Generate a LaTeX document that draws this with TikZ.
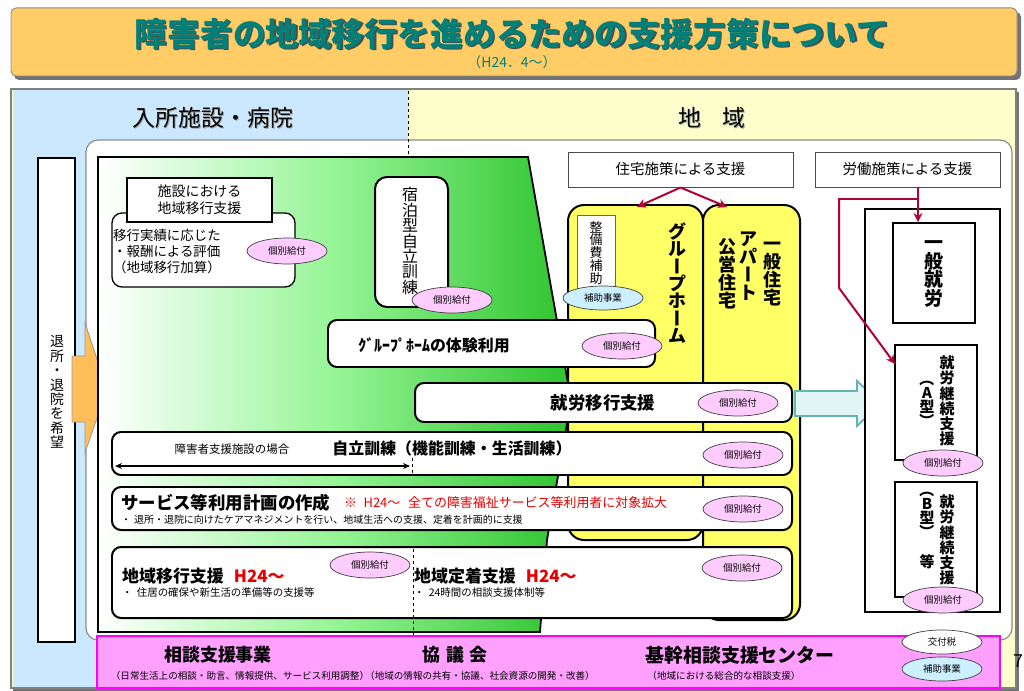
\documentclass[tikz,border=0pt]{standalone}
\usepackage{fontspec}
\usepackage{graphicx}
\setmainfont{Noto Sans CJK JP}
\usetikzlibrary{arrows.meta,shapes.geometric,fit}
\definecolor{titleor}{RGB}{255,204,102}
\definecolor{tealT}{RGB}{0,128,120}
\definecolor{lblue}{RGB}{204,232,255}
\definecolor{lyel}{RGB}{255,255,204}
\definecolor{yel}{RGB}{255,255,102}
\definecolor{pinkE}{RGB}{255,204,255}
\definecolor{cyanE}{RGB}{204,240,255}
\definecolor{barPink}{RGB}{255,160,255}
\definecolor{barMag}{RGB}{255,0,255}
\definecolor{darkred}{RGB}{180,0,50}
\definecolor{gr1}{RGB}{150,245,150}
\definecolor{gr2}{RGB}{45,195,45}
\definecolor{arrCyan}{RGB}{225,245,245}
\definecolor{arrTeal}{RGB}{100,180,180}
\definecolor{orArrow}{RGB}{255,190,90}
\definecolor{redT}{RGB}{230,0,0}
\newcommand\fsz[2]{\fontsize{#1}{#2}\selectfont}
\newcommand\VL{\rotatebox[origin=c]{-90}{\raisebox{0pt}[0.76em][0pt]{ー}}}
\newcommand\VP[1]{\rotatebox[origin=c]{-90}{\raisebox{0pt}[0.88em][0.12em]{#1}}}
\tikzset{
  box/.style={draw=black, line width=2pt, fill=white, rounded corners=9bp, inner sep=0pt},
  sq/.style={draw=black, line width=1.3pt, fill=white, inner sep=0pt},
  ell/.style={ellipse, draw=black!75, line width=0.7pt, fill=pinkE, minimum width=80bp, minimum height=26bp, inner sep=0pt, font=\fsz{9.5}{10}},
  cell/.style={ell, fill=cyanE},
  vt/.style={align=center, inner sep=0pt, execute at begin node={\setlength{\lineskiplimit}{-30pt}}},
  txt/.style={inner sep=0pt},
  rarr/.style={draw=darkred, line width=2pt, -{Stealth[length=9pt,width=9pt]}},
}
\begin{document}
\begin{tikzpicture}[x=1bp,y=-1bp]
\useasboundingbox (0,0) rectangle (1024,691);
\fill[white] (0,0) rectangle (1024,691);
% title
\fill[black!55, rounded corners=5bp] (14,12) rectangle (1021,80);
\node[fit={(11,8) (1017,76)}, inner sep=0pt, draw=black!45, line width=1pt, fill=titleor, rounded corners=5bp] (titleBox) {};
\node[txt, font=\fsz{33}{36}\bfseries, text=black!70] (titleSh) at (513.5,35.5) {障害者の地域移行を進めるための支援方策について};
\node[txt, font=\fsz{33}{36}\bfseries, text=tealT] (title) at (512,34) {障害者の地域移行を進めるための支援方策について};
\node[txt, font=\fsz{14}{15}, text=tealT] (subtitle) at (512,62) {（H24．4～）};
% main panel
\fill[black!55] (13,92) rectangle (1019,691);
\node[fit={(11,89) (1016,688)}, inner sep=0pt, draw=black!50, line width=2.5pt, fill=lyel] (mainPanel) {};
\fill[lblue] (12.5,90.5) rectangle (408,686.5);
\node[txt, font=\fsz{23}{25}, text=black!35] (hdrLsh) at (214,119) {入所施設・病院};
\node[txt, font=\fsz{23}{25}] (hdrL) at (213,118) {入所施設・病院};
\node[txt, font=\fsz{23}{25}, text=black!35] (hdrRsh) at (713,119) {地\hspace{0.9em}域};
\node[txt, font=\fsz{23}{25}] (hdrR) at (712,118) {地\hspace{0.9em}域};
% inner panel
\node[fit={(86,140) (1012,640)}, inner sep=0pt, draw=black!45, line width=1.2pt, fill=white, rounded corners=12bp] (innerPanel) {};
\coordinate (dTopA) at (408,91); \coordinate (dTopB) at (408,155);
\draw[dashed, line width=0.9pt] (dTopA) -- (dTopB);
% left column
\node[sq, line width=1.5pt, fit={(38,158) (75,642)}] (leftBox) {};
\node[vt, font=\fsz{14}{14.5}] (leftTxt) at (57,392) {退\\所\\・\\退\\院\\を\\希\\望};
\draw[fill=orArrow, draw=black!40, line width=0.8pt] (72,356) -- (85,356) -- (85,323) -- (107,389) -- (85,453) -- (85,422) -- (72,422) -- cycle;
% green region
\draw[line width=1.8pt, left color=white, right color=gr2, middle color=gr1] (98,157) -- (528,157) -- (571,400) -- (547,540) -- (540,632) -- (98,632) -- cycle;
% yellow columns
\node[fit={(568,205) (703,540)}, inner sep=0pt, draw, line width=2pt, fill=yel, rounded corners=16bp] (ghCol) {};
\node[fit={(703,205) (800,620)}, inner sep=0pt, draw, line width=2pt, fill=yel, rounded corners=16bp] (ipCol) {};
\node[sq, line width=0.8pt, draw=black!60, fit={(577,215) (615,290)}] (seibiBox) {};
\node[vt, font=\fsz{13}{13}] (seibiTxt) at (596,253) {整\\備\\費\\補\\助};
\node[cell, minimum height=24bp] (hojo1) at (603,298) {補助事業};
\node[vt, font=\fsz{18}{17.5}\bfseries] (ghTxt) at (677,283) {グ\\ル\\\VL\\プ\\ホ\\\VL\\ム};
\node[vt, font=\fsz{18}{18}\bfseries] (ippanTxt) at (772,274) {一\\般\\住\\宅};
\node[vt, font=\fsz{18}{18}\bfseries] (apTxt) at (748,266) {ア\\パ\\\VL\\ト};
\node[vt, font=\fsz{18}{18}\bfseries] (koeiTxt) at (727,274) {公\\営\\住\\宅};
% facility support
\node[box, line width=1.3pt, rounded corners=10bp, fit={(112,213) (295,287)}] (kasanBox) {};
\node[sq, fit={(127,178) (272,222)}] (shisetsuBox) {};
\node[txt, align=center, font=\fsz{14}{17}] (shisetsuTxt) at (shisetsuBox.center) {施設における\\地域移行支援};
\node[txt, anchor=north west, align=left, font=\fsz{13.5}{16}] (kasanTxt) at (113,229) {移行実績に応じた\\・報酬による評価\\（地域移行加算）};
\node[ell] (e1) at (287,251) {個別給付};
% shukuhaku
\node[box, rounded corners=12bp, fit={(375,177) (448,307)}] (shukuBox) {};
\node[vt, font=\fsz{16}{15.5}] (shukuTxt) at (410,241) {宿\\泊\\型\\自\\立\\訓\\練};
\node[ell] (e2) at (452,300) {個別給付};
% group home trial
\node[box, fit={(328,320) (655,367)}] (taikenBox) {};
\node[txt, font=\fsz{16}{18}\bfseries] (taikenTxt) at (434,345) {ｸﾞﾙｰﾌﾟﾎｰﾑの体験利用};
\node[ell] (e3) at (622,346) {個別給付};
% shuro iko
\node[box, fit={(415,383) (792,422)}] (ikoBox) {};
\node[txt, font=\fsz{17.5}{19}\bfseries] (ikoTxt) at (603,403) {就労移行支援};
\node[ell] (e5) at (738,403) {個別給付};
% jiritsu kunren
\node[box, fit={(112,432) (792,475)}] (jiritsuBox) {};
\node[txt, font=\fsz{11.5}{13}] (shisetsuCase) at (232,449) {障害者支援施設の場合};
\node[txt, font=\fsz{16}{18}\bfseries] (jiritsuTxt) at (452,448) {自立訓練（機能訓練・生活訓練）};
\coordinate (dblL) at (115,466); \coordinate (dblR) at (410,466);
\draw[line width=1.2pt, {Stealth[length=7pt,width=6pt]}-{Stealth[length=7pt,width=6pt]}] (dblL) -- (dblR);
\coordinate (dashT) at (412,458); \coordinate (dashB) at (412,475);
\draw[dashed, line width=0.8pt] (dashT) -- (dashB);
\node[ell] (e6) at (743,455) {個別給付};
% plan
\node[box, fit={(112,487) (792,530)}] (planBox) {};
\node[txt, anchor=west, font=\fsz{17.5}{19}\bfseries] (planTxt) at (121,503) {サービス等利用計画の作成};
\node[txt, anchor=west, font=\fsz{13}{15}, text=redT] (planRed) at (344,503) {※\hspace{0.5em}H24～\hspace{0.6em}全ての障害福祉サービス等利用者に対象拡大};
\node[txt, anchor=west, font=\fsz{10}{12}] (planSub) at (121,520) {・\hspace{0.3em}退所・退院に向けたケアマネジメントを行い、地域生活への支援、定着を計画的に支援};
\node[ell] (e7) at (743,509) {個別給付};
% chiiki iko / teichaku
\node[box, fit={(112,547) (792,618)}] (chiikiBox) {};
\node[txt, anchor=west, font=\fsz{17}{19}\bfseries] (ikoSien) at (122,576) {地域移行支援\hspace{0.6em}\textcolor{redT}{H24～}};
\node[txt, anchor=west, font=\fsz{10.5}{12}] (ikoSub) at (122,593) {・\hspace{0.4em}住居の確保や新生活の準備等の支援等};
\node[ell] (e8) at (370,565) {個別給付};
\node[txt, anchor=west, font=\fsz{17}{19}\bfseries] (teichaku) at (414,576) {地域定着支援\hspace{0.6em}\textcolor{redT}{H24～}};
\node[txt, anchor=west, font=\fsz{10.5}{12}] (teiSub) at (414,593) {・\hspace{0.4em}24時間の相談支援体制等};
\node[ell] (e9) at (742,568) {個別給付};
\coordinate (dash2T) at (413,549); \coordinate (dash2B) at (413,636);
\draw[dashed, line width=0.8pt] (dash2T) -- (dash2B);
% cyan arrow
\draw[fill=arrCyan, draw=arrTeal, line width=1.8pt] (795,391) -- (857,391) -- (857,381) -- (881,403) -- (857,426) -- (857,416) -- (795,416) -- cycle;
% policy boxes
\node[sq, line width=1pt, draw=black!70, fit={(568,152) (793,187)}] (hsBox) {};
\node[txt, font=\fsz{14.5}{16}] (hsTxt) at (hsBox.center) {住宅施策による支援};
\coordinate (ghTop) at (637,207); \coordinate (ipTop) at (727,207);
\draw[rarr] (hsBox.south) -- (ghTop);
\draw[rarr] (hsBox.south) -- (ipTop);
\node[sq, line width=1pt, draw=black!70, fit={(815,152) (1000,187)}] (lbBox) {};
\node[txt, font=\fsz{14.5}{16}] (lbTxt) at (lbBox.center) {労働施策による支援};
% employment
\node[sq, line width=1.5pt, fit={(865,209) (1000,612)}] (empBox) {};
\node[sq, line width=1.5pt, fit={(893,223) (975,323)}] (ippanBox) {};
\node[vt, font=\fsz{19}{19}\bfseries] (ippanShuro) at (934,274) {一\\般\\就\\労};
\node[sq, line width=1.5pt, fit={(895,345) (977,460)}] (aBox) {};
\node[vt, font=\fsz{15}{15.3}\bfseries] (aTxt) at (947,401) {就\\労\\継\\続\\支\\援};
\node[vt, font=\fsz{15}{14}\bfseries] (aType) at (927,400) {\VP{（}\\A\\型\\\VP{）}};
\node[ell] (e10) at (943,463) {個別給付};
\node[sq, line width=1.5pt, fit={(895,482) (977,597)}] (bBox) {};
\node[vt, font=\fsz{15}{15.3}\bfseries] (bTxt) at (947,540) {就\\労\\継\\続\\支\\援};
\node[vt, font=\fsz{15}{14}\bfseries] (bType) at (927,511) {\VP{（}\\B\\型\\\VP{）}};
\node[vt, font=\fsz{15}{15}\bfseries] (bTou) at (927,562) {等};
\node[ell] (e11) at (943,600) {個別給付};
\coordinate (lbS) at (918,187); \coordinate (ipjTop) at (918,222);
\draw[rarr] (lbS) -- (ipjTop);
\coordinate (lbJ) at (918,199); \coordinate (lbC1) at (839,199); \coordinate (lbC2) at (839,288); \coordinate (aTop) at (895,364);
\draw[rarr] (lbJ) -- (lbC1) -- (lbC2) -- (aTop);
% pink bar
\node[fit={(97,636) (1000,688)}, inner sep=0pt, draw=barMag, line width=1.8pt, fill=barPink] (barBox) {};
\node[txt, font=\fsz{18}{20}\bfseries] (soudan) at (218,655) {相談支援事業};
\node[txt, font=\fsz{9.6}{11}] (soudanSub) at (240,676) {（日常生活上の相談・助言、情報提供、サービス利用調整）};
\node[txt, font=\fsz{18}{20}\bfseries] (kyogi) at (455,655) {協\hspace{0.3em}議\hspace{0.3em}会};
\node[txt, font=\fsz{9.6}{11}] (kyogiSub) at (480,676) {（地域の情報の共有・協議、社会資源の開発・改善）};
\node[txt, font=\fsz{19}{21}\bfseries] (kikan) at (740,655) {基幹相談支援センター};
\node[txt, font=\fsz{9.6}{11}] (kikanSub) at (724,676) {（地域における総合的な相談支援）};
\node[ell, fill=white, minimum height=24bp] (kofu) at (942,642) {交付税};
\node[cell, minimum height=24bp] (hojo2) at (942,669) {補助事業};
\node[txt, font=\fsz{18}{20}] (pageNo) at (1018,661) {7};
\end{tikzpicture}
\end{document}
